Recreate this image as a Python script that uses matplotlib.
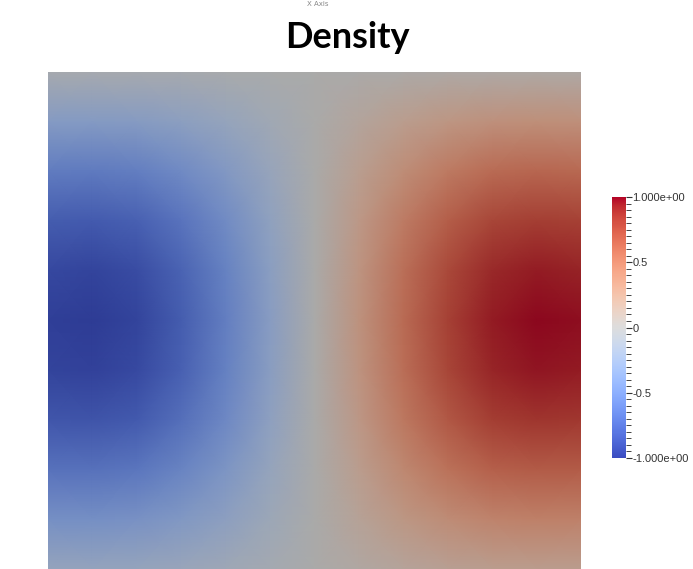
import numpy as np
import matplotlib
matplotlib.use("Agg")
import matplotlib.pyplot as plt
from matplotlib.colors import ListedColormap, Normalize
from matplotlib.cm import ScalarMappable

# Density field: horizontal profile x vertical profile
x_pos = [0.0, 0.0833, 0.1667, 0.25, 0.3333, 0.4167, 0.5,
         0.5833, 0.6667, 0.75, 0.8333, 0.9167, 1.0]
x_profile = [-0.97, -0.99, -0.94, -0.79, -0.57, -0.29, 0.0,
             0.29, 0.57, 0.79, 0.94, 0.99, 0.97]
y_pos = [0.0, 0.1, 0.2, 0.3, 0.4, 0.5, 0.6, 0.7, 0.8, 0.9, 1.0]
y_profile = [0.04, 0.33, 0.60, 0.82, 0.95, 1.0, 0.97, 0.86, 0.67, 0.44, 0.20]

cbar_ticks = [-1.0, -0.5, 0.0, 0.5, 1.0]
cbar_labels = ["-1.000e+00", "-0.5", "0", "0.5", "1.000e+00"]

density = np.outer(y_profile, x_profile)

# shaded colours in the render are darker than the colour legend
base = plt.get_cmap("coolwarm")
shade = base(np.linspace(0, 1, 256))
shade[:, :3] *= 0.77
shaded_cmap = ListedColormap(shade)

fig = plt.figure(figsize=(6.93, 5.69), dpi=100)

ax = fig.add_axes([48 / 693, 0.0, 533 / 693, 1 - 72 / 569])
ax.pcolormesh(x_pos, y_pos, density, cmap=shaded_cmap, vmin=-1, vmax=1,
              shading="gouraud")
ax.set_xlim(0, 1)
ax.set_ylim(1, 0)
ax.axis("off")

fig.text(347 / 693, 1 - 37 / 569, "Density", ha="center", va="center",
         fontsize=26, fontweight="bold", family="Lato")
fig.text(318 / 693, 0.999, "X Axis", ha="center", va="top",
         fontsize=5, color="#888888")

# colour legend
cax = fig.add_axes([612 / 693, 1 - 458 / 569, 14 / 693, 261 / 569])
sm = ScalarMappable(norm=Normalize(-1, 1), cmap=base)
cb = fig.colorbar(sm, cax=cax)
cb.outline.set_visible(False)
cb.set_ticks(cbar_ticks)
cb.set_ticklabels(cbar_labels)
cb.set_ticks(np.arange(-1, 1.001, 0.05), minor=True)
cax.tick_params(which="major", length=4, width=0.8, color="#333333",
                labelsize=8, labelcolor="#333333", pad=0.5)
cax.tick_params(which="minor", length=3.5, width=0.7, color="#444444")
for lbl in cax.get_yticklabels():
    lbl.set_family("Liberation Sans")

fig.savefig("out.png", dpi=100)
